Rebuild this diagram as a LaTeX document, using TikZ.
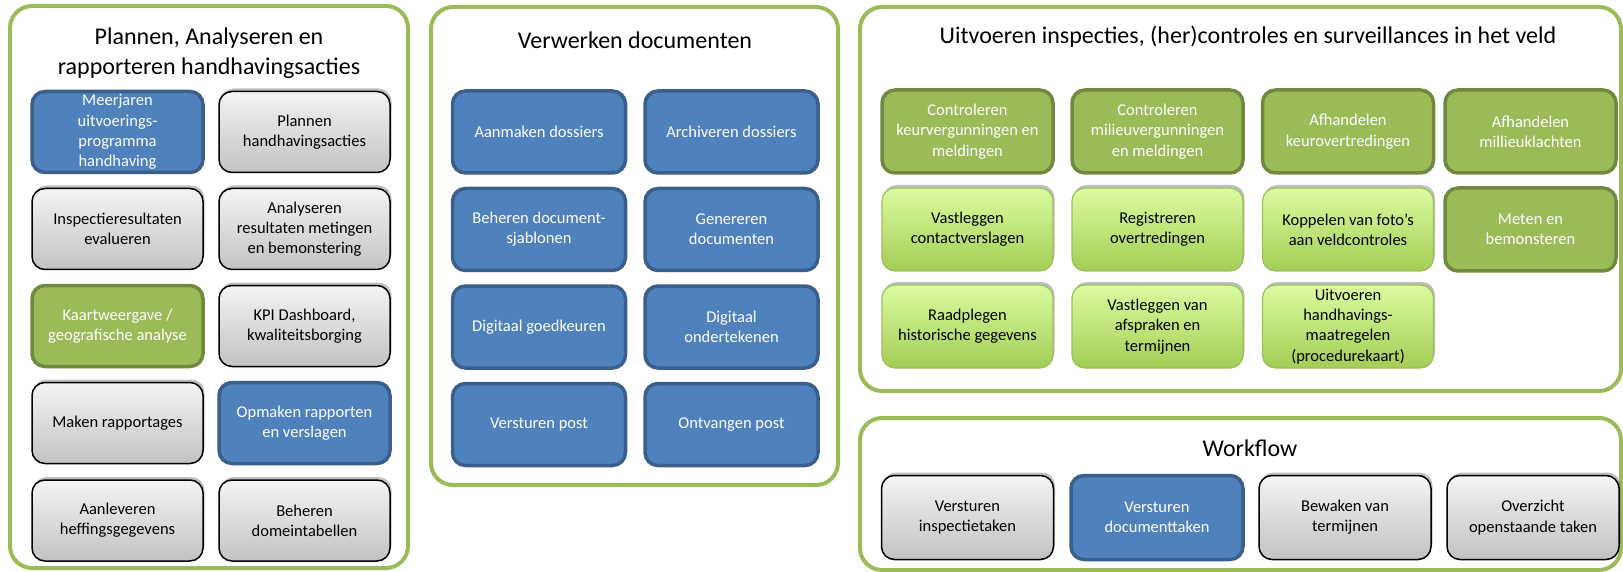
\documentclass[tikz,border=0pt]{standalone}
\usepackage{fontspec}
\setmainfont{Carlito}
\usetikzlibrary{shadows}
\definecolor{pgreen}{HTML}{9BBB59}
\definecolor{bfill}{HTML}{4F81BD}
\definecolor{bdraw}{HTML}{3A5F8B}
\definecolor{gfill}{HTML}{9BBB59}
\definecolor{gdraw}{HTML}{71893F}
\definecolor{lgtop}{HTML}{DBFCA0}
\definecolor{lgbot}{HTML}{A4CC55}
\definecolor{lgdraw}{HTML}{9DC05A}
\definecolor{gytop}{HTML}{F4F4F4}
\definecolor{gybot}{HTML}{C2C2C2}
\tikzset{
  panel/.style={draw=pgreen, line width=4, rounded corners=22, fill=white},
  ptitle/.style={font=\fontsize{24}{30}\selectfont, align=center, inner sep=0},
  boxbase/.style={rectangle, align=center, inner sep=0, rounded corners=13,
    font=\fontsize{16.5}{20.3}\selectfont},
  graybox/.style={boxbase, draw=black, line width=1.5, top color=gytop, bottom color=gybot,
    drop shadow={shadow xshift=1.5, shadow yshift=-3, opacity=0.25, fill=black}},
  bluebox/.style={boxbase, draw=bdraw, line width=3.5, fill=bfill, text=white},
  dgbox/.style={boxbase, draw=gdraw, line width=3.5, fill=gfill, text=white},
  lgbox/.style={boxbase, draw=lgdraw, line width=1.2, top color=lgtop, bottom color=lgbot,
    drop shadow={shadow xshift=1.5, shadow yshift=-3, opacity=0.25, fill=black}},
}
\begin{document}
\begin{tikzpicture}[x=1pt, y=-1pt]
\useasboundingbox (0,0) rectangle (1623,572);
\fill[white] (0,0) rectangle (1623,572);

% ---------------- Panel 1
\draw[panel] (10,6) rectangle (408,568);
\node[ptitle] (t1) at (209,53) {Plannen, Analyseren en\\rapporteren handhavingsacties};
\tikzset{p1/.style={minimum width=171, minimum height=81}}
\node[bluebox, p1] (a1) at (117.5,132) {Meerjaren\\uitvoerings-\\programma\\handhaving};
\node[graybox, p1] (a2) at (304.5,132) {Plannen\\handhavingsacties};
\node[graybox, p1] (a3) at (117.5,229) {Inspectieresultaten\\evalueren};
\node[graybox, p1] (a4) at (304.5,229) {Analyseren\\resultaten metingen\\en bemonstering};
\node[dgbox, p1] (a5) at (117.5,326) {Kaartweergave /\\geografische analyse};
\node[graybox, p1] (a6) at (304.5,326) {KPI Dashboard,\\kwaliteitsborging};
\node[graybox, p1] (a7) at (117.5,423) {Maken rapportages};
\node[bluebox, p1] (a8) at (304.5,423) {Opmaken rapporten\\en verslagen};
\node[graybox, p1] (a9) at (117.5,520.5) {Aanleveren\\heffingsgegevens};
\node[graybox, p1] (a10) at (304.5,520.5) {Beheren\\domeintabellen};

% ---------------- Panel 2
\draw[panel] (431,7) rectangle (838,485);
\node[ptitle] (t2) at (635,40) {Verwerken documenten};
\tikzset{p2/.style={minimum width=173, minimum height=82}}
\node[bluebox, p2] (b1) at (539,132) {Aanmaken dossiers};
\node[bluebox, p2] (b2) at (731.5,132) {Archiveren dossiers};
\node[bluebox, p2] (b3) at (539,229.5) {Beheren document-\\sjablonen};
\node[bluebox, p2] (b4) at (731.5,229.5) {Genereren\\documenten};
\node[bluebox, p2] (b5) at (539,327) {Digitaal goedkeuren};
\node[bluebox, p2] (b6) at (731.5,327) {Digitaal\\ondertekenen};
\node[bluebox, p2] (b7) at (539,424.5) {Versturen post};
\node[bluebox, p2] (b8) at (731.5,424.5) {Ontvangen post};

% ---------------- Panel 3
\draw[panel] (860,7) rectangle (1621,391);
\node[ptitle] (t3) at (1248,37) {Uitvoeren inspecties, (her)controles en surveillances in het veld};
\tikzset{p3/.style={minimum width=171, minimum height=83}}
\node[dgbox, p3] (c1) at (967.5,131.5) {Controleren\\keurvergunningen en\\meldingen};
\node[dgbox, p3] (c2) at (1157.5,131.5) {Controleren\\milieuvergunningen\\en meldingen};
\node[dgbox, p3] (c3) at (1348,131.5) {Afhandelen\\keurovertredingen};
\node[dgbox, p3] (c4) at (1530.5,131.5) {Afhandelen\\millieuklachten};
\node[lgbox, p3] (c5) at (967.5,229.5) {Vastleggen\\contactverslagen};
\node[lgbox, p3] (c6) at (1157.5,229.5) {Registreren\\overtredingen};
\node[lgbox, p3] (c7) at (1348,229.5) {Koppelen van foto’s\\aan veldcontroles};
\node[dgbox, p3] (c8) at (1530.5,229.5) {Meten en\\bemonsteren};
\node[lgbox, p3] (c9) at (967.5,326.5) {Raadplegen\\historische gegevens};
\node[lgbox, p3] (c10) at (1157.5,326.5) {Vastleggen van\\afspraken en\\termijnen};
\node[lgbox, p3] (c11) at (1348,326.5) {Uitvoeren\\handhavings-\\maatregelen\\(procedurekaart)};

% ---------------- Panel 4
\draw[panel] (860,418) rectangle (1621,570);
\node[ptitle] (t4) at (1250,448) {Workflow};
\tikzset{p4/.style={minimum width=172, minimum height=84}}
\node[graybox, p4] (d1) at (967.5,517.5) {Versturen\\inspectietaken};
\node[bluebox, p4] (d2) at (1157,517.5) {Versturen\\documenttaken};
\node[graybox, p4] (d3) at (1345,517.5) {Bewaken van\\termijnen};
\node[graybox, p4] (d4) at (1533,517.5) {Overzicht\\openstaande taken};
\end{tikzpicture}
\end{document}
